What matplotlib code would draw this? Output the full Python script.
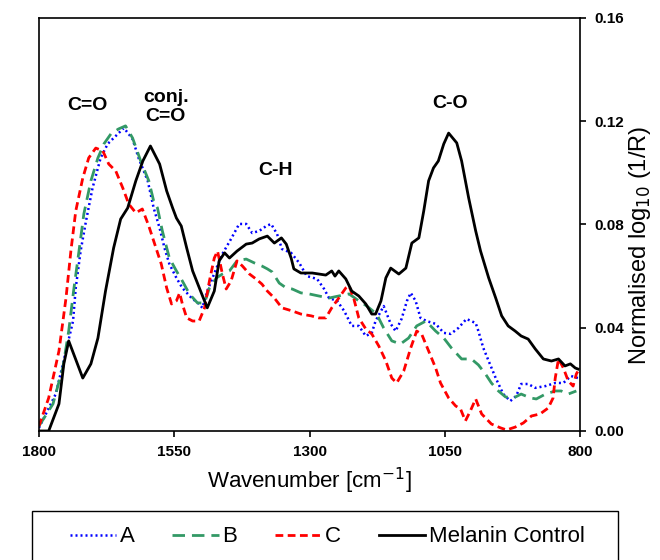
import matplotlib.pyplot as plt
from matplotlib.patches import Rectangle

plt.rcParams['font.family'] = ['Liberation Sans', 'DejaVu Sans']

# Melanin control (solid black)
wn_ctrl = [1800, 1782, 1763, 1754, 1745, 1719, 1704, 1691, 1677, 1662, 1649, 1636, 1621, 1608,
           1594, 1577, 1564, 1553, 1546, 1537, 1527, 1516, 1500, 1489, 1476, 1467, 1457, 1448,
           1434, 1417, 1406, 1393, 1378, 1365, 1352, 1343, 1334, 1329, 1316, 1295, 1270, 1259,
           1253, 1246, 1233, 1222, 1209, 1196, 1185, 1178, 1168, 1159, 1150, 1135, 1122, 1111,
           1098, 1089, 1080, 1071, 1062, 1052, 1043, 1028, 1019, 1006, 993, 984, 969, 956, 945,
           933, 920, 909, 896, 883, 868, 853, 840, 828, 818, 809, 804]
ctrl = [0.0, 0.0, 0.0105, 0.026, 0.0349, 0.0205, 0.026, 0.036, 0.0542, 0.0709, 0.0821, 0.0864,
        0.0969, 0.1046, 0.1104, 0.1034, 0.093, 0.0864, 0.0825, 0.0794, 0.0709, 0.062, 0.0535,
        0.0477, 0.0542, 0.0659, 0.069, 0.067, 0.0697, 0.0724, 0.0728, 0.0744, 0.0755, 0.0728,
        0.0748, 0.0724, 0.067, 0.0628, 0.0612, 0.0612, 0.0604, 0.062, 0.06, 0.062, 0.0589,
        0.0542, 0.0523, 0.0492, 0.0453, 0.0453, 0.0504, 0.0593, 0.0631, 0.0608, 0.0631, 0.0728,
        0.0748, 0.0852, 0.0969, 0.1019, 0.1046, 0.1112, 0.1154, 0.1116, 0.1046, 0.0903, 0.0775,
        0.0697, 0.0593, 0.0515, 0.0446, 0.0407, 0.0387, 0.0368, 0.0356, 0.0318, 0.0279, 0.0271,
        0.0279, 0.0252, 0.026, 0.0244, 0.024]

# sample A (blue dotted)
wn_a = [1800, 1769, 1750, 1737, 1732, 1723, 1713, 1701, 1686, 1673, 1658, 1643, 1627, 1616,
        1599, 1588, 1577, 1568, 1559, 1546, 1535, 1518, 1504, 1498, 1489, 1472, 1461, 1445,
        1430, 1417, 1406, 1393, 1380, 1371, 1360, 1351, 1334, 1319, 1305, 1286, 1273, 1264,
        1249, 1236, 1222, 1209, 1196, 1185, 1178, 1163, 1150, 1141, 1130, 1120, 1113, 1104,
        1095, 1084, 1067, 1052, 1039, 1025, 1010, 993, 988, 979, 969, 956, 942, 929, 918, 909,
        896, 883, 864, 846, 831, 817, 804]
a_vals = [0.0012, 0.0143, 0.031, 0.0426, 0.0554, 0.0697, 0.0814, 0.0941, 0.1058, 0.1112, 0.1143,
          0.1174, 0.1131, 0.1058, 0.0969, 0.0864, 0.0786, 0.0709, 0.0647, 0.0593, 0.0554,
          0.0515, 0.0492, 0.0477, 0.0542, 0.0631, 0.0686, 0.0744, 0.0802, 0.0802, 0.0767,
          0.0775, 0.0794, 0.0802, 0.0763, 0.0705, 0.069, 0.0651, 0.06, 0.0589, 0.055, 0.0515,
          0.0504, 0.0465, 0.0407, 0.0407, 0.0368, 0.038, 0.0426, 0.0484, 0.0415, 0.0387, 0.0434,
          0.0504, 0.0535, 0.0504, 0.0438, 0.0426, 0.0415, 0.038, 0.0376, 0.0399, 0.0434, 0.0418,
          0.0387, 0.0322, 0.0271, 0.0205, 0.0143, 0.0116, 0.0136, 0.0182, 0.0182, 0.0167,
          0.0174, 0.0186, 0.0186, 0.0213, 0.0205]

# sample B (green dashed)
wn_b = [1800, 1774, 1756, 1745, 1736, 1726, 1717, 1704, 1691, 1680, 1667, 1653, 1640, 1627,
        1612, 1597, 1588, 1581, 1572, 1559, 1546, 1535, 1522, 1507, 1494, 1485, 1472, 1461,
        1448, 1434, 1417, 1402, 1388, 1378, 1369, 1356, 1343, 1332, 1316, 1301, 1283, 1264,
        1246, 1227, 1209, 1194, 1176, 1163, 1148, 1132, 1117, 1102, 1085, 1067, 1052, 1038,
        1019, 1001, 988, 975, 964, 951, 938, 923, 909, 892, 881, 864, 846, 835, 822, 807]
b_vals = [0.0019, 0.0105, 0.0244, 0.0387, 0.0542, 0.0697, 0.0841, 0.0969, 0.1058, 0.1112, 0.1151,
          0.117, 0.1182, 0.1135, 0.1046, 0.0969, 0.0891, 0.0864, 0.0775, 0.067, 0.062, 0.0581,
          0.0531, 0.0496, 0.0496, 0.0554, 0.0593, 0.0608, 0.062, 0.0659, 0.0666, 0.0651, 0.0639,
          0.0628, 0.0616, 0.0573, 0.0554, 0.055, 0.0535, 0.0531, 0.0523, 0.0515, 0.0523, 0.0531,
          0.0504, 0.0484, 0.0453, 0.0399, 0.0349, 0.0337, 0.036, 0.0407, 0.0426, 0.0387, 0.036,
          0.0322, 0.0279, 0.0279, 0.0256, 0.0221, 0.0186, 0.0155, 0.0132, 0.0128, 0.0143,
          0.0128, 0.0124, 0.0143, 0.0155, 0.0155, 0.0143, 0.0155]

# sample C (red dashed)
wn_c = [1800, 1782, 1763, 1750, 1741, 1732, 1719, 1708, 1695, 1682, 1671, 1658, 1645, 1634,
        1621, 1609, 1597, 1585, 1574, 1564, 1555, 1546, 1540, 1535, 1527, 1516, 1504, 1494,
        1485, 1476, 1470, 1461, 1454, 1445, 1434, 1424, 1411, 1399, 1388, 1378, 1365, 1351,
        1332, 1316, 1297, 1283, 1270, 1259, 1246, 1233, 1227, 1218, 1209, 1196, 1185, 1172,
        1159, 1148, 1139, 1126, 1113, 1102, 1093, 1080, 1067, 1058, 1043, 1030, 1021, 1012,
        1003, 993, 982, 964, 947, 936, 920, 905, 890, 874, 859, 850, 846, 840, 831, 822, 813,
        807, 804]
c_vals = [0.0019, 0.0128, 0.031, 0.0515, 0.0697, 0.0852, 0.098, 0.1058, 0.1096, 0.1085, 0.1034,
          0.1007, 0.0941, 0.0879, 0.0845, 0.086, 0.0794, 0.0717, 0.0647, 0.0554, 0.0492, 0.0504,
          0.0535, 0.0492, 0.0438, 0.0426, 0.0426, 0.0477, 0.0581, 0.067, 0.0697, 0.0608, 0.055,
          0.0581, 0.0659, 0.0639, 0.0608, 0.0589, 0.0569, 0.0542, 0.0515, 0.0477, 0.0465,
          0.0453, 0.0446, 0.0438, 0.0438, 0.0477, 0.0515, 0.0554, 0.0562, 0.0511, 0.0438,
          0.0395, 0.0376, 0.0329, 0.0271, 0.0205, 0.0186, 0.0232, 0.0322, 0.0387, 0.0376, 0.031,
          0.0244, 0.0186, 0.0128, 0.0097, 0.0085, 0.0039, 0.0077, 0.0124, 0.0066, 0.0027,
          0.0012, 0.0004, 0.0015, 0.0031, 0.0058, 0.0066, 0.0089, 0.0128, 0.0205, 0.0279,
          0.0244, 0.0194, 0.0174, 0.0221, 0.0232]

x_ticks = [1800, 1550, 1300, 1050, 800]
y_ticks = [0.00, 0.04, 0.08, 0.12, 0.16]

# band labels: (text, wavenumber, value)
bands = [("C=O", 1710, 0.126),
         ("conj.\nC=O", 1566, 0.1255),
         ("C-H", 1362, 0.1011),
         ("C-O", 1041, 0.1267)]

fig = plt.figure(figsize=(6.6, 5.6), dpi=100)
ax = fig.add_axes([0.059, 0.2304, 0.82, 0.7375])

ax.plot(wn_a, a_vals, color='#0000ff', lw=1.8, ls=(0, (0.8, 1.2)), label='A')
ax.plot(wn_b, b_vals, color='#339966', lw=2, ls=(0, (4.5, 2.5)), label='B')
ax.plot(wn_c, c_vals, color='#ff0000', lw=2, ls=(0, (2.8, 1.6)), label='C')
ax.plot(wn_ctrl, ctrl, color='black', lw=2, label='Melanin Control')

ax.set_xlim(1800, 800)
ax.set_ylim(0, 0.16)
ax.set_xticks(x_ticks)
ax.set_yticks(y_ticks)
ax.set_yticklabels(['%.2f' % v for v in y_ticks])
ax.yaxis.tick_right()
ax.tick_params(direction='out', length=4, width=1.2, labelsize=11)
ax.tick_params(axis='x', pad=6)
ax.tick_params(axis='y', pad=6)
for lab in ax.get_xticklabels() + ax.get_yticklabels():
    lab.set_fontweight('bold')
for s in ax.spines.values():
    s.set_linewidth(1.2)

ax.set_xlabel('Wavenumber [cm$^{-1}$]', fontsize=16)
ax.xaxis.set_label_coords(0.5, -0.121)
ax.xaxis.label.set_va('center')

ax.yaxis.set_label_position('right')
ax.set_ylabel('Normalised log$_{10}$ (1/R)', fontsize=17)
ax.yaxis.set_label_coords(1.111, 0.45)
ax.yaxis.label.set_va('center')

for txt, w, v in bands:
    ax.text(w, v, txt, ha='center', va='center', fontsize=14, fontweight='bold',
            linespacing=1.1)

fig.legend(loc='center', bbox_to_anchor=(327 / 660, 1 - 537 / 560), ncol=4, fontsize=16,
           frameon=False, handlelength=2.1, handletextpad=0.15, columnspacing=1.7)
# legend frame runs off the bottom edge of the figure
fig.add_artist(Rectangle((32 / 660, -0.05), 586 / 660, 1 - 511 / 560 + 0.05,
                         transform=fig.transFigure, fill=False, ec='black', lw=1))

fig.savefig('out.png', dpi=100)
